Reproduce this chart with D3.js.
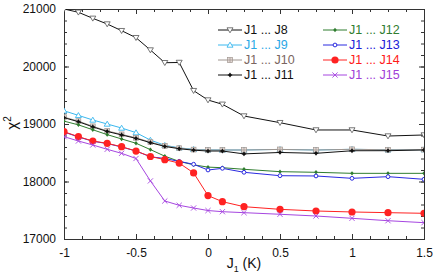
<!DOCTYPE html>
<html lang="en">
<head>
<meta charset="UTF-8">
<title>chi2 vs J1</title>
<script src="https://d3js.org/d3.v7.min.js"></script>
<style>
    body { margin: 0; background: #fff; }
    svg text { font-family: "Liberation Sans", Arial, sans-serif; }
</style>
</head>
<body>
<script>
var w = 436, h = 277;

// x positions of J1 (K)
var j1 = [-1, -0.9, -0.8, -0.7, -0.6, -0.5, -0.4, -0.3, -0.2, -0.1, 0, 0.1, 0.25, 0.5, 0.75, 1, 1.25, 1.5];

var j8  = [21000, 20943, 20838, 20739, 20623, 20501, 20287, 20066, 20070, 19580, 19417, 19343, 19139, 19023, 18896, 18896, 18791, 18809];
var j9  = [19230, 19150, 19070, 19000, 18930, 18850, 18720, 18630, 18585, 18560, 18550, 18548, 18548, 18558, 18548, 18560, 18552, 18555];
var j10 = [19120, 19050, 18960, 18880, 18820, 18760, 18685, 18620, 18580, 18555, 18548, 18548, 18548, 18558, 18548, 18560, 18552, 18555];
var j11 = [19110, 19040, 18950, 18870, 18810, 18750, 18675, 18610, 18570, 18545, 18530, 18530, 18480, 18505, 18490, 18535, 18536, 18548];
var j12 = [19050, 18985, 18900, 18815, 18740, 18665, 18555, 18440, 18350, 18290, 18250, 18240, 18212, 18171, 18160, 18142, 18142, 18142];
var j13 = [18860, 18775, 18700, 18660, 18600, 18530, 18430, 18400, 18350, 18300, 18200, 18229, 18160, 18101, 18096, 18055, 18084, 18038];
var j14 = [18866, 18780, 18704, 18664, 18605, 18530, 18435, 18380, 18320, 18150, 17755, 17649, 17562, 17516, 17487, 17470, 17458, 17447];
var j15 = [18780, 18704, 18635, 18560, 18490, 18400, 18010, 17661, 17586, 17539, 17495, 17475, 17458, 17430, 17400, 17360, 17318, 17284];

var seriesNames = ["J1 ... J8", "J1 ... J9", "J1 ... J10", "J1 ... J11", "J1 ... J12", "J1 ... J13", "J1 ... J14", "J1 ... J15"];
var seriesValues = [j8, j9, j10, j11, j12, j13, j14, j15];

var xTicks = [-1, -0.5, 0, 0.5, 1, 1.5];
var xTickLabels = ["-1", "-0.5", "0", "0.5", "1", "1.5"];
var yTicks = [17000, 18000, 19000, 20000, 21000];

// style per series: line colour, text colour, marker kind
var styles = [
    {line: "#111", text: "#111", marker: "tridown"},
    {line: "#3bb8ee", text: "#2aa8e6", marker: "triup"},
    {line: "#a09690", text: "#7a6560", marker: "sqplus"},
    {line: "#111", text: "#111", marker: "diamond"},
    {line: "#2f7d2f", text: "#2f7d2f", marker: "dot"},
    {line: "#2a2ae0", text: "#2020d8", marker: "ring"},
    {line: "#ff2222", text: "#ff1a1a", marker: "bigdot"},
    {line: "#a646e0", text: "#a040d8", marker: "cross"}
];

var margin = {left: 64, right: 12, top: 9, bottom: 38};
var iw = w - margin.left - margin.right;
var ih = h - margin.top - margin.bottom;

var svg = d3.select("body").append("svg")
    .attr("width", w)
    .attr("height", h);

var x = d3.scaleLinear().domain([-1, 1.5]).range([0, iw]);
var y = d3.scaleLinear().domain([17000, 21000]).range([ih, 0]);

var g = svg.append("g").attr("transform", "translate(" + margin.left + "," + margin.top + ")");

// minor ticks
var xMinor = d3.range(-1, 1.5001, 0.125);
var yMinor = d3.range(17000, 21001, 200);

function addAxis(axis, tr, labels) {
    var a = g.append("g").attr("transform", tr).call(axis);
    a.select(".domain").attr("stroke", "#333");
    a.selectAll(".tick line").attr("stroke", "#333");
    a.selectAll("text").attr("font-size", 12).attr("fill", "#111");
    if (!labels) a.selectAll("text").remove();
    return a;
}

addAxis(d3.axisBottom(x).tickValues(xMinor).tickSize(-3).tickFormat(""), "translate(0," + ih + ")", false);
addAxis(d3.axisTop(x).tickValues(xMinor).tickSize(-3).tickFormat(""), "translate(0,0)", false);
addAxis(d3.axisLeft(y).tickValues(yMinor).tickSize(-3).tickFormat(""), "translate(0,0)", false);
addAxis(d3.axisRight(y).tickValues(yMinor).tickSize(-3).tickFormat(""), "translate(" + iw + ",0)", false);

addAxis(d3.axisBottom(x).tickValues(xTicks).tickSize(-5).tickPadding(9)
    .tickFormat(function(d, i) { return xTickLabels[i]; }), "translate(0," + ih + ")", true);
addAxis(d3.axisTop(x).tickValues(xTicks).tickSize(-5).tickFormat(""), "translate(0,0)", false);
addAxis(d3.axisLeft(y).tickValues(yTicks).tickSize(-5).tickPadding(8)
    .tickFormat(d3.format("d")), "translate(0,0)", true);
addAxis(d3.axisRight(y).tickValues(yTicks).tickSize(-5).tickFormat(""), "translate(" + iw + ",0)", false);

// clip to the plot frame
svg.append("defs").append("clipPath").attr("id", "plotclip")
    .append("rect").attr("x", 0).attr("y", 0).attr("width", iw).attr("height", ih);

var plot = g.append("g").attr("clip-path", "url(#plotclip)");

function drawMarker(sel, kind, col) {
    if (kind === "tridown") {
        sel.append("path").attr("d", "M-3,-2.2L3,-2.2L0,2.8z")
            .attr("fill", "#fff").attr("stroke", "#555").attr("stroke-width", 0.8);
    } else if (kind === "triup") {
        sel.append("path").attr("d", "M-3,2.2L3,2.2L0,-2.8z")
            .attr("fill", "#fff").attr("stroke", col).attr("stroke-width", 0.9);
    } else if (kind === "sqplus") {
        sel.append("rect").attr("x", -2.4).attr("y", -2.4).attr("width", 4.8).attr("height", 4.8)
            .attr("fill", "#e2d8d4").attr("stroke", col).attr("stroke-width", 0.7);
        sel.append("path").attr("d", "M-2.4,0H2.4M0,-2.4V2.4").attr("stroke", col).attr("stroke-width", 0.7);
    } else if (kind === "diamond") {
        sel.append("path").attr("d", "M0,-2.4L1.9,0L0,2.4L-1.9,0z").attr("fill", "#111");
        sel.append("path").attr("d", "M-2.3,0H2.3").attr("stroke", "#111").attr("stroke-width", 0.8);
    } else if (kind === "dot") {
        sel.append("path").attr("d", "M0,-2.2L1.8,0L0,2.2L-1.8,0z").attr("fill", col);
    } else if (kind === "ring") {
        sel.append("circle").attr("r", 1.9).attr("fill", "#fff").attr("stroke", col).attr("stroke-width", 1);
    } else if (kind === "bigdot") {
        sel.append("circle").attr("r", 3.6).attr("fill", col);
    } else if (kind === "cross") {
        sel.append("path").attr("d", "M-2.6,-2.6L2.6,2.6M-2.6,2.6L2.6,-2.6")
            .attr("stroke", col).attr("stroke-width", 0.9);
    }
}

var line = d3.line()
    .x(function(d) { return x(d[0]); })
    .y(function(d) { return y(d[1]); });

seriesValues.forEach(function(vals, i) {
    var st = styles[i];
    var pts = j1.map(function(v, k) { return [v, vals[k]]; });
    plot.append("path")
        .datum(pts)
        .attr("d", line)
        .attr("fill", "none")
        .attr("stroke", st.line)
        .attr("stroke-width", 1);
    plot.selectAll(".m" + i)
        .data(pts)
        .enter()
        .append("g")
        .attr("class", "m" + i)
        .attr("transform", function(d) { return "translate(" + x(d[0]) + "," + y(d[1]) + ")"; })
        .each(function() { drawMarker(d3.select(this), st.marker, st.line); });
});

// legend in two columns
var legend = svg.append("g");
seriesNames.forEach(function(name, i) {
    var st = styles[i];
    var col = Math.floor(i / 4), row = i % 4;
    var lx = col === 0 ? 218 : 323;
    var ly = 30 + row * 15;
    var item = legend.append("g").attr("transform", "translate(" + lx + "," + ly + ")");
    item.append("line").attr("x1", 0).attr("x2", 24).attr("y1", 0).attr("y2", 0)
        .attr("stroke", st.line).attr("stroke-width", 1);
    var mk = item.append("g").attr("transform", "translate(12,0)");
    drawMarker(mk, st.marker, st.line);
    item.append("text").attr("x", 26).attr("y", 4.3)
        .attr("font-size", 12.5).attr("fill", st.text).text(name);
});

// axis titles
var yl = svg.append("text")
    .attr("transform", "translate(17,123) rotate(-90)")
    .attr("text-anchor", "middle")
    .attr("font-size", 15)
    .attr("fill", "#111");
yl.append("tspan").text("\u03c7");
yl.append("tspan").attr("font-size", 10).attr("dy", -6).text("2");

var xl = svg.append("text")
    .attr("x", 244)
    .attr("y", 268)
    .attr("text-anchor", "middle")
    .attr("font-size", 14)
    .attr("fill", "#111");
xl.append("tspan").text("J");
xl.append("tspan").attr("font-size", 9).attr("dy", 4).text("1");
xl.append("tspan").attr("dy", -4).text(" (K)");
</script>
</body>
</html>
